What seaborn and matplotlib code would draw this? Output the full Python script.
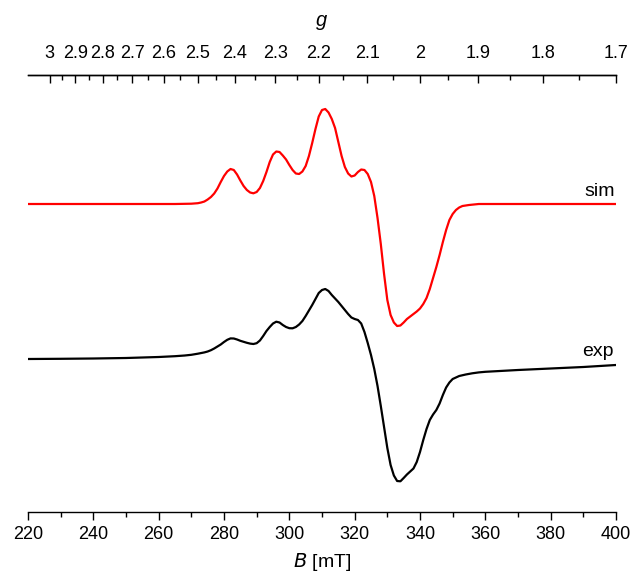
import pandas as pd
import seaborn as sns
import matplotlib.pyplot as plt
import matplotlib.ticker as mticker

# field in mT and intensity (arbitrary units)
sim_B = [220, 250, 265, 270, 272, 273, 274, 275, 276, 277, 278, 279, 280,
         281, 282, 283, 284, 285, 286, 287, 288, 289, 290, 291, 292, 293,
         294, 295, 296, 297, 298, 299, 300, 301, 302, 303, 304, 305, 306,
         307, 308, 309, 310, 311, 312, 313, 314, 315, 316, 317, 318, 319,
         320, 321, 322, 323, 324, 325, 326, 327, 328, 329, 330, 331, 332,
         333, 334, 335, 336, 337, 338, 339, 340, 341, 342, 343, 344, 345,
         346, 347, 348, 349, 350, 351, 352, 353, 355, 358, 400]
sim_I = [0, 0, 0, 0.3, 0.8, 1.5, 2.5, 4.5, 7, 10.5, 15.5, 22, 28,
         32.5, 35, 34, 29.5, 23.5, 18, 14, 11.5, 10.7, 12, 16, 23, 32,
         42, 49.5, 52.5, 52, 48.5, 44.5, 39, 34, 30.5, 30, 32.5, 38, 48,
         61, 75, 87.5, 94, 95, 91.5, 85, 76, 62, 48, 37, 30.5, 27.5,
         28.5, 32, 34.5, 34, 30, 22, 8, -14, -40, -70, -96, -111, -118.5,
         -122, -121.5, -118.5, -115, -112.5, -110, -107.5, -104.5, -100, -94,
         -85, -74, -63, -51, -38, -26, -16, -10, -6, -3.5, -2, -1, 0, 0]

exp_B = [220, 230, 240, 250, 260, 265, 268, 270, 272, 274, 275, 276, 277,
         278, 279, 280, 281, 282, 283, 284, 285, 286, 287, 288, 289, 290,
         291, 292, 293, 294, 295, 296, 297, 298, 299, 300, 301, 302, 303,
         304, 305, 306, 307, 308, 309, 310, 311, 312, 313, 314, 315, 316,
         317, 318, 319, 320, 321, 322, 323, 324, 325, 326, 327, 328, 329,
         330, 331, 332, 333, 334, 335, 336, 337, 338, 339, 340, 341, 342,
         343, 344, 345, 346, 347, 348, 349, 350, 351, 352, 354, 356, 358,
         360, 370, 380, 390, 400]
exp_I = [0, 0.2, 0.5, 1, 2, 2.8, 3.5, 4.2, 5.3, 6.6, 7.5, 8.8, 10.5,
         12.5, 14.5, 17, 19.2, 20.6, 20.5, 19.5, 18.2, 17.2, 16.2, 15.4, 15, 15.8,
         18.5, 23, 28, 32, 35.5, 37.3, 36.5, 34, 32, 30.8, 30.7, 32, 34.5,
         38, 43, 48.5, 54, 60, 66, 69, 70, 68, 64, 60.5, 57, 53,
         49, 45, 41.5, 40, 39, 35.5, 27, 16, 4, -10, -27, -47, -68,
         -89, -106, -116.5, -122, -122.3, -119, -115.5, -112.5, -109.5, -103, -93, -81, -70,
         -61, -55.5, -51, -44.5, -36, -28.5, -23.5, -20, -18.5, -17, -15.5, -14.3, -13.4,
         -12.8, -11, -9.5, -8, -6]

g_major = [3.0, 2.9, 2.8, 2.7, 2.6, 2.5, 2.4, 2.3, 2.2, 2.1, 2.0, 1.9, 1.8, 1.7]
g_minor = [2.95, 2.85, 2.75, 2.65, 2.55, 2.45, 2.35, 2.25, 2.15, 2.05,
           1.95, 1.85, 1.75]

# h*nu/mu_B in mT (about 9.52 GHz)
HNU = 680.0
SIM_SHIFT = 155

sns.set_theme(style="ticks")
plt.rcParams["font.family"] = ["Liberation Sans", "DejaVu Sans"]
plt.rcParams["text.color"] = "black"
plt.rcParams["axes.labelcolor"] = "black"
plt.rcParams["xtick.color"] = "black"

sim = pd.DataFrame({"B": sim_B, "I": [v + SIM_SHIFT for v in sim_I]})
exp = pd.DataFrame({"B": exp_B, "I": exp_I})

fig = plt.figure(figsize=(6.33, 5.76), dpi=100)
ax = fig.add_axes([28 / 633, 64 / 576, 588 / 633, 437 / 576])

sns.lineplot(sim, x="B", y="I", ax=ax, color="#ff0000", lw=1.6,
             sort=False, estimator=None)
sns.lineplot(exp, x="B", y="I", ax=ax, color="black", lw=1.6,
             sort=False, estimator=None)

ax.set_xlim(220, 400)
ax.set_ylim(-153, 284)
ax.set_yticks([])
ax.set_ylabel("")
for s in ["left", "right"]:
    ax.spines[s].set_visible(False)
for s in ["bottom", "top"]:
    ax.spines[s].set_linewidth(1.0)
    ax.spines[s].set_color("black")

ax.xaxis.set_major_locator(mticker.MultipleLocator(20))
ax.xaxis.set_minor_locator(mticker.MultipleLocator(10))
ax.tick_params(axis="x", which="major", direction="out", length=6,
               width=1, labelsize=13, pad=4, colors="black")
ax.tick_params(axis="x", which="minor", direction="out", length=3.5, width=1)
ax.set_xlabel(r"$\it{B}$ [mT]", fontsize=14, labelpad=6)

top = ax.secondary_xaxis("top", functions=(lambda b: HNU / b,
                                           lambda g: HNU / g))
top.set_xticks(g_major)
top.set_xticks(g_minor, minor=True)
top.xaxis.set_major_formatter(mticker.FormatStrFormatter("%g"))
top.tick_params(which="major", direction="in", length=6, width=1,
                labelsize=13, pad=9, colors="black")
top.tick_params(which="minor", direction="in", length=3.5, width=1)
top.spines["top"].set_linewidth(1.0)
top.spines["top"].set_color("black")
top.set_xlabel("g", fontsize=14.5, fontstyle="italic", labelpad=14)

ax.text(399.7, 162.5, "sim", ha="right", va="baseline", fontsize=14)
ax.text(399.2, 3, "exp", ha="right", va="baseline", fontsize=14)

fig.savefig("out.png", dpi=100)
